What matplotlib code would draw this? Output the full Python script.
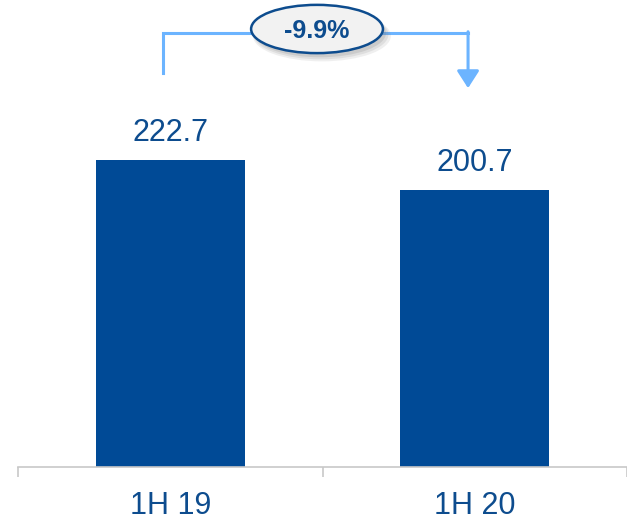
import matplotlib
matplotlib.use("Agg")
import matplotlib.pyplot as plt
from matplotlib.patches import Ellipse, FancyArrowPatch
from matplotlib import font_manager

categories = ["1H 19", "1H 20"]
values = [222.7, 200.7]
change_label = "-9.9%"

fams = {f.name for f in font_manager.fontManager.ttflist}
font = "Liberation Sans Narrow" if "Liberation Sans Narrow" in fams else "Liberation Sans"
plt.rcParams['font.family'] = [font, 'DejaVu Sans']

bar_color = "#004a96"
text_color = "#0d4c8e"
line_color = "#6cb4ff"

fig = plt.figure(figsize=(6.27, 5.23), dpi=100)
ax = fig.add_axes([18/627, 56/523, 609/627, 467/523])
x = list(range(len(categories)))
ax.bar(x, values, width=0.49, color=bar_color, zorder=2)
ax.set_xlim(-0.5, len(categories) - 0.5)
ax.set_ylim(0, 338.7)

for xi, v in zip(x, values):
    ax.text(xi, v + 9, f"{v:.1f}", ha="center", va="bottom", fontsize=22, color=text_color)

for s in ["top", "right", "left"]:
    ax.spines[s].set_visible(False)
ax.spines["bottom"].set_color("#c8c8c8")
ax.spines["bottom"].set_linewidth(1.2)
ax.set_yticks([])
ax.set_xticks(x)
ax.set_xticklabels(categories, fontsize=22, color=text_color)
ax.tick_params(axis="x", which="major", length=0, pad=17)
ax.set_xticks([i - 0.5 for i in range(len(categories) + 1)], minor=True)
ax.tick_params(axis="x", which="minor", length=7, width=1.2, color="#c8c8c8", direction="out")

# bracket annotation
top = max(values) * 1.413
x0, x1 = -0.024, 0.978
ax.plot([x0, x0, x1], [values[0] * 1.283, top, top], color=line_color, lw=2.2, clip_on=False, zorder=3,
        solid_joinstyle="miter")
arr = FancyArrowPatch((x1, top + 1), (x1, values[1] * 1.369), arrowstyle="-|>,head_length=0.7,head_width=0.45",
                      mutation_scale=15, color=line_color, lw=2.2, shrinkA=0, shrinkB=0, clip_on=False, zorder=3)
ax.add_patch(arr)
cx = (x0 + x1) / 2 + 0.005
cy = top + 3
for i, (dx, dy, a) in enumerate([(0.016, -5, 0.12), (0.013, -4, 0.15), (0.010, -3, 0.2)]):
    ax.add_patch(Ellipse((cx + dx, cy + dy), 0.433 + 0.01 * (2 - i), 35 + 1.0 * (2 - i), facecolor="#808080",
                         edgecolor="none", alpha=a, clip_on=False, zorder=4))
ell = Ellipse((cx, cy), 0.433, 35, facecolor="#f2f2f2", edgecolor="#0d4c8e", lw=1.8,
              clip_on=False, zorder=5)
ax.add_patch(ell)
ax.text(cx, cy - 1.5, change_label, ha="center", va="center", fontsize=18, fontweight="bold",
        color=text_color, zorder=6)

fig.savefig("out.png", dpi=100)
